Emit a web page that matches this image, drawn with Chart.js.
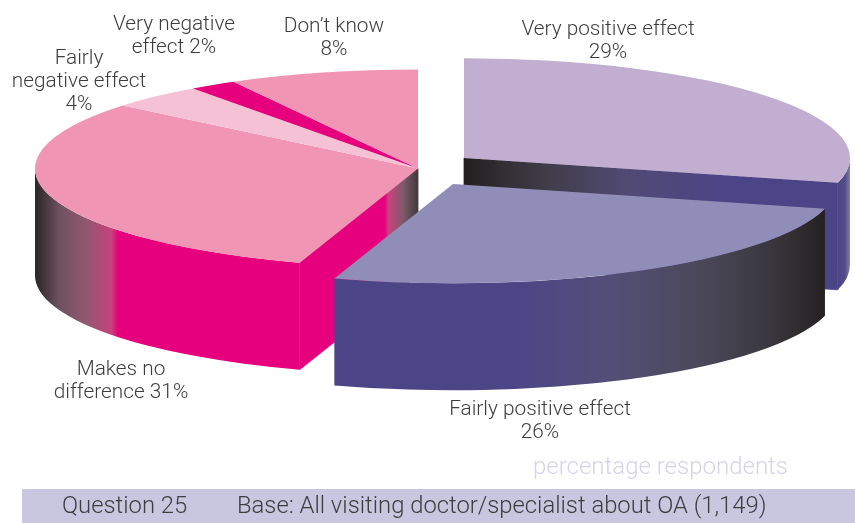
<!DOCTYPE html>
<html><head><meta charset="utf-8">
<style>html,body{margin:0;padding:0;background:#fff}canvas{display:block}</style>
<script src="https://cdn.jsdelivr.net/npm/chart.js@4"></script>
</head><body><canvas id="c" width="855" height="523"></canvas>
<script>
// ---- data ----
const categories = ["Very positive effect","Fairly positive effect","Makes no difference","Fairly negative effect","Very negative effect","Don't know"];
const shares = [29,26,31,4,2,8];
const chartLabels = [
  ["Very positive effect","29%"],
  ["Fairly positive effect","26%"],
  ["Makes no","difference 31%"],
  ["Fairly","negative effect","4%"],
  ["Very negative","effect 2%"],
  ["Don\u2019t know","8%"]
];
const unitNote = "percentage respondents";
const questionText = "Question 25";
const baseText = "Base: All visiting doctor/specialist about OA (1,149)";

// ---- styles & layout ----
const topColors = ["#c1aed0","#908db8","#f095b3","#f5c2d5","#e6007e","#f095b3"];
const sliceGroup = [0,1,2,2,2,2];
const groups = [
  {x:464,y:158,r:386},
  {x:453,y:184,r:384},
  {x:418,y:168.5,r:383}
];
const drawOrder = [0,2,1];
const squash = 0.2585, depth = 107;
const blue="#4b4587", ink="#231f20", mag="#e6007e";
const wallPaint = {
  0:{outer:[837,850,[[0,blue],[0.6,"#524c8c"],[1,"#80809a"]]],
     face:[464,725,[[0,ink],[0.3,"#3f3c46"],[0.62,"#514a74"],[1,blue]]]},
  1:{outer:[334,828,[[0,blue],[0.38,"#4c4686"],[0.55,"#534e78"],[0.75,"#4a4858"],[0.9,"#37353a"],[1,ink]]]},
  2:{outer:[35,118,[[0,"#2a2627"],[0.3,"#6f5160"],[0.6,"#90586f"],[0.92,"#c6427c"],[1,mag]]],
     face:[385,418,[[0,mag],[0.1,"#c9437c"],[0.55,"#7d5a69"],[1,"#3f3a3c"]]]}
};
const textColor="#3d3d3d";
const labelFont="300 20.8px Roboto, 'Liberation Sans', sans-serif";
const baseFont="300 23.8px Roboto, 'Liberation Sans', sans-serif";
const noteFont="300 24px Roboto, 'Liberation Sans', sans-serif";
const labelPos=[[608,30],[540,410],[121,370],[79,59],[174,25],[334,27]];
const lineGap=23;

function grad(ctx,spec){
  const g=ctx.createLinearGradient(spec[0],0,spec[1],0);
  spec[2].forEach(s=>g.addColorStop(s[0],s[1]));
  return g;
}
function paintOuter(ctx,arc,a0,a1,fill){
  const s=Math.max(a0,0), e=Math.min(a1,Math.PI);
  if(e<=s) return;
  const cx=arc.x, cy=arc.y*squash, rx=arc.outerRadius, ry=rx*squash;
  ctx.beginPath();
  ctx.ellipse(cx,cy,rx,ry,0,s,e,false);
  ctx.ellipse(cx,cy+depth,rx,ry,0,e,s,true);
  ctx.closePath();
  ctx.fillStyle=fill;ctx.fill();
}
function paintFace(ctx,arc,a,fill){
  const cx=arc.x, cy=arc.y*squash, rx=arc.outerRadius, ry=rx*squash;
  const px=cx+rx*Math.cos(a), py=cy+ry*Math.sin(a);
  ctx.beginPath();
  ctx.moveTo(cx,cy);ctx.lineTo(px,py);ctx.lineTo(px,py+depth);ctx.lineTo(cx,cy+depth);
  ctx.closePath();
  ctx.fillStyle=fill;ctx.fill();
  ctx.strokeStyle=fill;ctx.lineWidth=0.8;ctx.stroke();
}
const pie3d={
  id:"pie3d",
  afterDatasetsUpdate(chart){
    chart.getDatasetMeta(0).data.forEach((arc,i)=>{
      const g=groups[sliceGroup[i]];
      arc.x=g.x; arc.y=g.y/squash; arc.outerRadius=g.r;
    });
  },
  beforeDatasetDraw(chart){
    const ctx=chart.ctx, arcs=chart.getDatasetMeta(0).data;
    drawOrder.forEach(gi=>{
      const members=arcs.filter((a,i)=>sliceGroup[i]===gi);
      const paint=wallPaint[gi];
      const start=members[0].startAngle, end=members[members.length-1].endAngle;
      if(paint.face){
        const faceAngle=Math.cos(end)>0.01?end:start;
        if(Math.cos(start)<-0.01||Math.cos(end)>0.01) paintFace(ctx,members[0],faceAngle,grad(ctx,paint.face));
      }
      paintOuter(ctx,members[0],start,end,grad(ctx,paint.outer));
      ctx.save();ctx.scale(1,squash);
      members.forEach(a=>a.draw(ctx));
      ctx.restore();
    });
    return false;
  },
  afterDraw(chart){
    const ctx=chart.ctx;
    ctx.save();
    ctx.fillStyle=textColor;ctx.font=labelFont;ctx.textAlign="center";ctx.textBaseline="middle";
    chartLabels.forEach((lines,i)=>lines.forEach((t,j)=>ctx.fillText(t,labelPos[i][0],labelPos[i][1]+j*lineGap)));
    ctx.fillStyle="#c9c6e0";ctx.fillRect(22,489,833,34);
    ctx.fillStyle=textColor;ctx.textAlign="left";ctx.font=baseFont;
    ctx.fillText(questionText,62,507);
    ctx.fillText(baseText,237,507);
    ctx.fillStyle="#d6d3e8";ctx.font=noteFont;
    ctx.fillText(unitNote,533,468);
    ctx.restore();
  }
};
new Chart(document.getElementById("c"),{
  type:"pie",
  data:{labels:categories,datasets:[{data:shares,backgroundColor:topColors,borderWidth:0,radius:384,hoverOffset:0}]},
  options:{responsive:false,animation:false,events:[],layout:{padding:0},rotation:0,
    plugins:{legend:{display:false},tooltip:{enabled:false},title:{display:false}}},
  plugins:[pie3d]
});
</script></body></html>
